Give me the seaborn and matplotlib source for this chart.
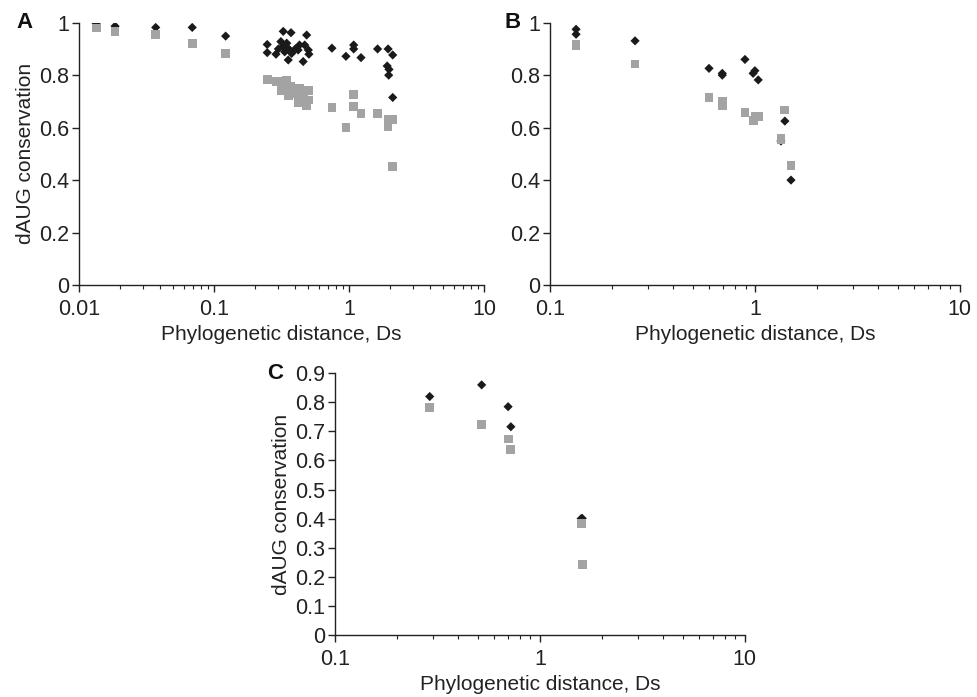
import numpy as np
import pandas as pd
import matplotlib
matplotlib.use("Agg")
import matplotlib.pyplot as plt
from matplotlib.ticker import FuncFormatter, LogLocator, MultipleLocator
import seaborn as sns

# Panel A: all species pairs
a_black_x = [0.0134, 0.0185, 0.037, 0.069, 0.122,
             0.326, 0.372, 0.486, 0.248, 0.248, 0.288, 0.326, 0.313, 0.346, 0.355,
             0.334, 0.376, 0.355, 0.42, 0.43, 0.47, 0.5, 0.505, 0.458, 0.40, 0.30,
             0.748, 0.95, 1.084, 1.084, 1.228, 1.63, 1.95, 2.11, 1.92, 1.98, 1.97, 2.11]
a_black_y = [0.998, 0.987, 0.982, 0.982, 0.949,
             0.967, 0.962, 0.953, 0.917, 0.886, 0.880, 0.910, 0.928, 0.922, 0.902,
             0.889, 0.883, 0.858, 0.896, 0.915, 0.915, 0.896, 0.880, 0.852, 0.900, 0.900,
             0.903, 0.872, 0.915, 0.900, 0.867, 0.900, 0.900, 0.877, 0.835, 0.822, 0.800, 0.715]
a_gray_x = [0.0134, 0.0185, 0.037, 0.069, 0.122,
            0.248, 0.288, 0.318, 0.346, 0.326, 0.318, 0.355, 0.37, 0.355, 0.428,
            0.5, 0.428, 0.42, 0.505, 0.486, 0.46, 0.40,
            0.748, 0.95, 1.084, 1.084, 1.228, 1.63, 1.95, 2.11, 1.95, 2.11]
a_gray_y = [0.980, 0.967, 0.955, 0.920, 0.884,
            0.785, 0.775, 0.775, 0.780, 0.762, 0.743, 0.743, 0.758, 0.724, 0.750,
            0.743, 0.715, 0.695, 0.705, 0.684, 0.710, 0.730,
            0.677, 0.600, 0.727, 0.682, 0.655, 0.653, 0.632, 0.632, 0.604, 0.451]

# Panel B
b_black_x = [0.134, 0.134, 0.26, 0.597, 0.693, 0.693, 0.894, 0.98, 1.0, 1.038, 1.40, 1.34, 1.50]
b_black_y = [0.975, 0.956, 0.931, 0.826, 0.807, 0.800, 0.860, 0.807, 0.817, 0.782, 0.625, 0.549, 0.400]
b_gray_x = [0.134, 0.134, 0.26, 0.597, 0.693, 0.693, 0.894, 0.98, 1.0, 1.038, 1.40, 1.34, 1.34, 1.50]
b_gray_y = [0.918, 0.913, 0.843, 0.716, 0.699, 0.683, 0.657, 0.626, 0.641, 0.641, 0.667, 0.559, 0.553, 0.457]

# Panel C
c_black_x = [0.29, 0.52, 0.70, 0.722, 1.61, 1.59]
c_black_y = [0.820, 0.860, 0.785, 0.716, 0.401, 0.400]
c_gray_x = [0.29, 0.52, 0.70, 0.722, 1.59, 1.61]
c_gray_y = [0.783, 0.725, 0.674, 0.639, 0.382, 0.241]

sns.set_style("ticks")
plt.rcParams['font.family'] = ['Liberation Sans', 'DejaVu Sans']

BLACK = "#1a1a1a"
GRAY = "#a3a3a3"
TXT = "#222222"


def panel(ax, bx, by, gx, gy, xlim, ylim, ystep, letter, ylabel, letter_x):
    df_b = pd.DataFrame({"x": bx, "y": by})
    df_g = pd.DataFrame({"x": gx, "y": gy})
    sns.scatterplot(data=df_b, x="x", y="y", ax=ax, marker="D", s=22,
                    color=BLACK, edgecolor="none", linewidth=0)
    sns.scatterplot(data=df_g, x="x", y="y", ax=ax, marker="s", s=40,
                    color=GRAY, edgecolor="none", linewidth=0)
    ax.set_xscale("log")
    ax.set_xlim(*xlim)
    ax.set_ylim(*ylim)
    ax.yaxis.set_major_locator(MultipleLocator(ystep))
    ax.xaxis.set_major_locator(LogLocator(base=10))
    ax.xaxis.set_minor_locator(LogLocator(base=10, subs=np.arange(2, 10)))
    fmt = FuncFormatter(lambda v, p: "%g" % round(v, 3))
    ax.xaxis.set_major_formatter(fmt)
    ax.yaxis.set_major_formatter(fmt)
    ax.tick_params(axis="both", which="major", direction="out", length=5,
                   width=1, labelsize=15.5, colors=TXT, pad=2)
    ax.tick_params(axis="x", which="major", pad=5)
    ax.tick_params(axis="x", which="minor", direction="out", length=3, width=0.8,
                   colors=TXT)
    for s in ["top", "right"]:
        ax.spines[s].set_visible(False)
    for s in ["left", "bottom"]:
        ax.spines[s].set_color(TXT)
        ax.spines[s].set_linewidth(1)
    ax.set_xlabel("Phylogenetic distance, Ds", fontsize=15, color=TXT, labelpad=4)
    ax.set_ylabel(ylabel, fontsize=15, color=TXT, labelpad=3)
    ax.text(letter_x, 1.0, letter, transform=ax.transAxes, fontsize=16,
            fontweight="bold", ha="left", va="center", color="#111111")


fig = plt.figure(figsize=(9.78, 6.97), dpi=100)
ax_a = fig.add_axes([0.0808, 0.5911, 0.414, 0.3763])
ax_b = fig.add_axes([0.5624, 0.5911, 0.419, 0.3763])
ax_c = fig.add_axes([0.3425, 0.0890, 0.419, 0.3755])

panel(ax_a, a_black_x, a_black_y, a_gray_x, a_gray_y, (0.01, 10), (0, 1), 0.2, "A",
      "dAUG conservation", -0.155)
panel(ax_b, b_black_x, b_black_y, b_gray_x, b_gray_y, (0.1, 10), (0, 1), 0.2, "B", "",
      -0.11)
panel(ax_c, c_black_x, c_black_y, c_gray_x, c_gray_y, (0.1, 10), (0, 0.9), 0.1, "C",
      "dAUG conservation", -0.165)

fig.savefig("out.png", dpi=100)
